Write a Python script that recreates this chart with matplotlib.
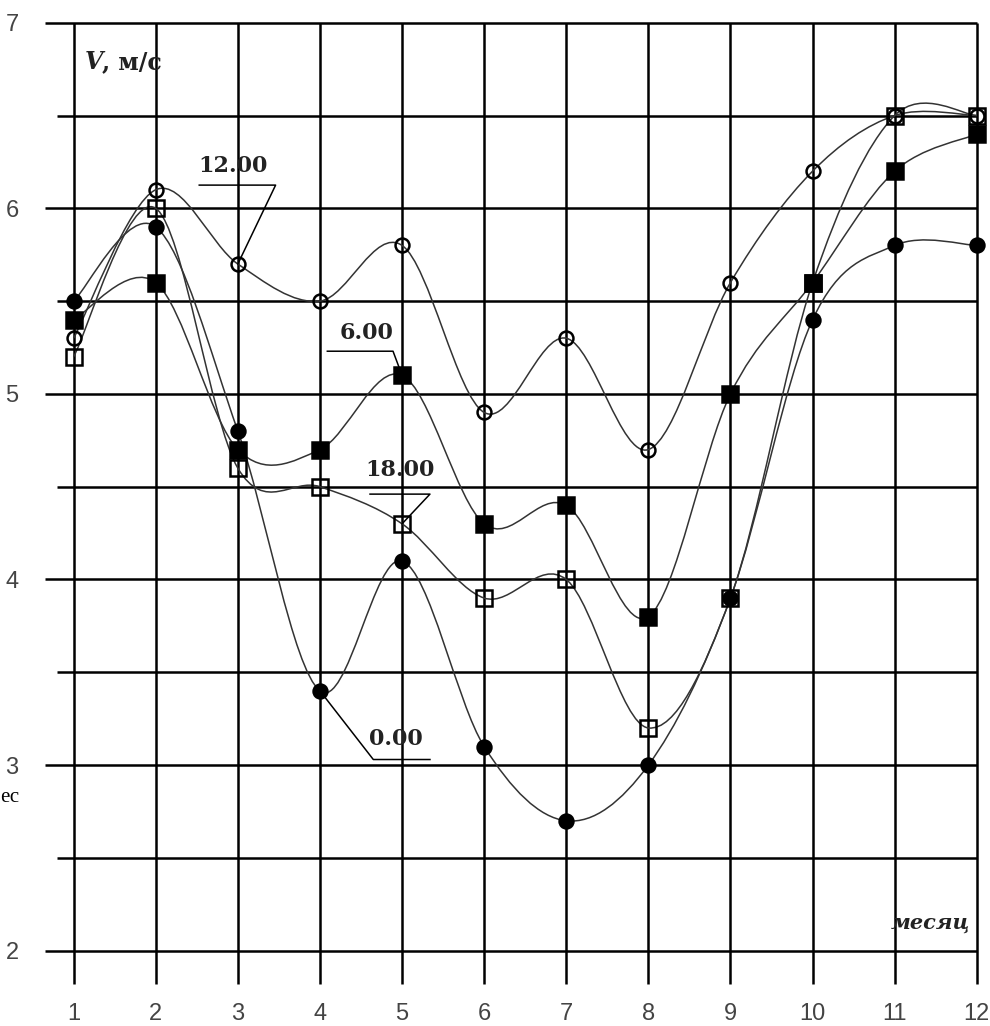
import matplotlib.pyplot as plt
import numpy as np
from matplotlib.path import Path
from matplotlib.patches import PathPatch

months = [1, 2, 3, 4, 5, 6, 7, 8, 9, 10, 11, 12]

v_0000 = [5.5, 5.9, 4.8, 3.4, 4.1, 3.1, 2.7, 3.0, 3.9, 5.4, 5.8, 5.8]
v_0600 = [5.4, 5.6, 4.7, 4.7, 5.1, 4.3, 4.4, 3.8, 5.0, 5.6, 6.2, 6.4]
v_1200 = [5.3, 6.1, 5.7, 5.5, 5.8, 4.9, 5.3, 4.7, 5.6, 6.2, 6.5, 6.5]
v_1800 = [5.2, 6.0, 4.6, 4.5, 4.3, 3.9, 4.0, 3.2, 3.9, 5.6, 6.5, 6.5]

yticks = [2, 3, 4, 5, 6, 7]
ylabels = ['2', '3', '4', '5', '6', '7']
xlabels = [str(m) for m in months]


def smooth_path(x, y):
    # Catmull-Rom through the points, drawn as cubic bezier segments
    x = np.asarray(x, float)
    y = np.asarray(y, float)
    p = np.column_stack([x, y])
    pp = np.vstack([p[0], p, p[-1]])
    verts = [p[0]]
    codes = [Path.MOVETO]
    for i in range(len(p) - 1):
        p0, p1, p2, p3 = pp[i], pp[i + 1], pp[i + 2], pp[i + 3]
        c1 = p1 + (p2 - p0) / 6.0
        c2 = p2 - (p3 - p1) / 6.0
        verts += [c1, c2, p2]
        codes += [Path.CURVE4] * 3
    return Path(verts, codes)


fig = plt.figure(figsize=(9.9, 10.26), dpi=100)
ax = fig.add_axes([0.0329, 0.0282, 0.9662, 0.9587])
ax.set_xlim(0.5, 12.15)
ax.set_ylim(1.75, 7.05)
for s in ax.spines.values():
    s.set_visible(False)

# grid, drawn a bit past the plot like the original
for yv in np.arange(2, 7.01, 0.5):
    x0 = 0.65 if yv == int(yv) else 0.8
    ax.hlines(yv, x0, 12, color='black', lw=1.8, zorder=1)
for m in months:
    ax.vlines(m, 1.82, 7, color='black', lw=1.8, zorder=1)

series = [
    (v_1200, 'o', 'none', 10),
    (v_0600, 's', 'black', 11),
    (v_1800, 's', 'none', 11),
    (v_0000, 'o', 'black', 10),
]
for vals, mk, fc, ms in series:
    ax.add_patch(PathPatch(smooth_path(months, vals), fill=False,
                           edgecolor='#333333', lw=1.1, zorder=2))
    ax.plot(months, vals, ls='none', marker=mk, ms=ms, mfc=fc,
            mec='black', mew=1.8, zorder=3)

ax.set_xticks(months)
ax.set_xticklabels(xlabels)
ax.set_yticks(yticks)
ax.set_yticklabels(ylabels)
ax.tick_params(length=0, labelsize=17, labelcolor='#444444')
ax.tick_params(axis='y', pad=10)
ax.tick_params(axis='x', pad=4)
for lab in ax.get_xticklabels() + ax.get_yticklabels():
    lab.set_family('Liberation Sans')

lbl = dict(family='DejaVu Serif', fontweight='bold', fontsize=16, color='#222222')

# leader labels
ax.text(2.94, 6.17, '12.00', ha='center', va='bottom', **lbl)
ax.plot([2.53, 3.46, 3.0], [6.125, 6.125, 5.7], color='black', lw=1.1)

ax.text(4.57, 5.27, '6.00', ha='center', va='bottom', **lbl)
ax.plot([4.09, 4.89, 5.0], [5.23, 5.23, 5.1], color='black', lw=1.1)

ax.text(4.97, 4.53, '18.00', ha='center', va='bottom', **lbl)
ax.plot([4.61, 5.34, 5.0], [4.46, 4.46, 4.3], color='black', lw=1.1)

ax.text(4.93, 3.08, '0.00', ha='center', va='bottom', **lbl)
ax.plot([5.34, 4.65, 4.0], [3.03, 3.03, 3.4], color='black', lw=1.1)

# axis captions
ax.text(1.14, 6.79, 'V', ha='left', va='center', family='DejaVu Serif',
        fontweight='bold', fontstyle='italic', fontsize=17, color='#222222')
ax.text(1.35, 6.79, ', м/с', ha='left', va='center', family='DejaVu Serif',
        fontweight='bold', fontsize=17, color='#222222')
ax.text(11.92, 2.15, 'месяц', ha='right', va='center', family='DejaVu Serif',
        fontweight='bold', fontstyle='italic', fontsize=15, color='#222222')

fig.text(0.0, 1 - 797 / 1026, 'ес', ha='left', va='center',
         family='Liberation Serif', fontsize=15)

fig.savefig('out.png', dpi=100)
